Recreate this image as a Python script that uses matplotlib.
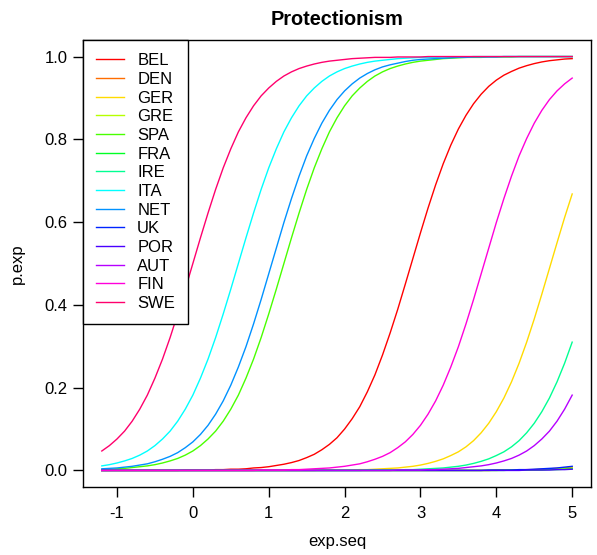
import matplotlib
matplotlib.use("Agg")
import matplotlib.pyplot as plt

plt.rcParams['font.family'] = ['Liberation Sans', 'DejaVu Sans']

# x sequence (exp.seq)
exp_seq = [-1.2, -1.1, -1.0, -0.9, -0.8, -0.7, -0.6, -0.5, -0.4, -0.3,
           -0.2, -0.1, 0.0, 0.1, 0.2, 0.3, 0.4, 0.5, 0.6, 0.7,
           0.8, 0.9, 1.0, 1.1, 1.2, 1.3, 1.4, 1.5, 1.6, 1.7,
           1.8, 1.9, 2.0, 2.1, 2.2, 2.3, 2.4, 2.5, 2.6, 2.7,
           2.8, 2.9, 3.0, 3.1, 3.2, 3.3, 3.4, 3.5, 3.6, 3.7,
           3.8, 3.9, 4.0, 4.1, 4.2, 4.3, 4.4, 4.5, 4.6, 4.7,
           4.8, 4.9, 5.0]

countries = ['BEL', 'DEN', 'GER', 'GRE', 'SPA', 'FRA', 'IRE', 'ITA',
             'NET', 'UK', 'POR', 'AUT', 'FIN', 'SWE']

colors = ['#FF0000', '#FF6D00', '#FFDB00', '#B6FF00', '#49FF00', '#00FF24',
          '#00FF92', '#00FFFF', '#0092FF', '#0024FF', '#4900FF', '#B600FF',
          '#FF00DB', '#FF006D']

p_bel = [0.0] * 11 + [
    0.001, 0.001, 0.001, 0.001, 0.002, 0.002, 0.003, 0.003, 0.004, 0.006,
    0.007, 0.009, 0.012, 0.015, 0.019, 0.024, 0.031, 0.039, 0.050, 0.063,
    0.079, 0.100, 0.125, 0.154, 0.190, 0.231, 0.279, 0.332, 0.389, 0.450,
    0.512, 0.574, 0.634, 0.690, 0.741, 0.786, 0.825, 0.858, 0.886, 0.909,
    0.928, 0.943, 0.955, 0.964, 0.972, 0.978, 0.983, 0.987, 0.990, 0.992,
    0.994, 0.995]
p_den = [0.0] * 52 + [0.001, 0.001, 0.001, 0.001, 0.002, 0.002, 0.003,
                      0.004, 0.005, 0.006, 0.008]
p_ger = [0.0] * 29 + [
    0.001, 0.001, 0.001, 0.001, 0.001, 0.002, 0.002, 0.003, 0.004, 0.005,
    0.006, 0.008, 0.010, 0.013, 0.017, 0.022, 0.028, 0.036, 0.045, 0.057,
    0.072, 0.091, 0.114, 0.142, 0.175, 0.214, 0.259, 0.310, 0.366, 0.426,
    0.488, 0.550, 0.611, 0.668]
p_gre = [0.0] * 53 + [0.001, 0.001, 0.001, 0.001, 0.002, 0.002, 0.003,
                      0.004, 0.005, 0.006]
p_spa = [
    0.002, 0.003, 0.004, 0.005, 0.007, 0.009, 0.011, 0.014, 0.018, 0.023,
    0.029, 0.037, 0.047, 0.060, 0.076, 0.095, 0.119, 0.148, 0.182, 0.223,
    0.269, 0.321, 0.378, 0.438, 0.500, 0.562, 0.622, 0.679, 0.731, 0.777,
    0.818, 0.852, 0.881, 0.905, 0.924, 0.940, 0.953, 0.963, 0.971, 0.977,
    0.982, 0.986, 0.989, 0.991, 0.993, 0.995, 0.996, 0.997, 0.998, 0.998,
    0.998, 0.999, 0.999, 0.999, 0.999] + [1.0] * 8
p_fra = [0.0] * 54 + [0.001, 0.001, 0.001, 0.001, 0.001, 0.002, 0.002,
                      0.003, 0.004]
p_ire = [0.0] * 35 + [
    0.001, 0.001, 0.001, 0.001, 0.001, 0.002, 0.002, 0.003, 0.004, 0.005,
    0.006, 0.008, 0.010, 0.013, 0.017, 0.022, 0.028, 0.036, 0.045, 0.057,
    0.072, 0.091, 0.114, 0.142, 0.175, 0.214, 0.259, 0.310]
p_ita = [
    0.011, 0.014, 0.018, 0.023, 0.029, 0.037, 0.047, 0.060, 0.076, 0.095,
    0.119, 0.148, 0.182, 0.223, 0.269, 0.321, 0.378, 0.438, 0.500, 0.562,
    0.622, 0.679, 0.731, 0.777, 0.818, 0.852, 0.881, 0.905, 0.924, 0.940,
    0.953, 0.963, 0.971, 0.977, 0.982, 0.986, 0.989, 0.991, 0.993, 0.995,
    0.996, 0.997, 0.998, 0.998, 0.998, 0.999, 0.999, 0.999, 0.999] + [1.0] * 14
p_net = [
    0.004, 0.005, 0.006, 0.008, 0.010, 0.013, 0.016, 0.021, 0.027, 0.034,
    0.043, 0.055, 0.069, 0.087, 0.109, 0.136, 0.168, 0.206, 0.250, 0.299,
    0.354, 0.413, 0.475, 0.537, 0.599, 0.657, 0.711, 0.760, 0.802, 0.839,
    0.870, 0.896, 0.917, 0.934, 0.948, 0.959, 0.968, 0.975, 0.980, 0.984,
    0.988, 0.991, 0.993, 0.994, 0.995, 0.996, 0.997, 0.998, 0.998, 0.999,
    0.999, 0.999, 0.999] + [1.0] * 10
p_uk = [0.0] * 51 + [0.001, 0.001, 0.001, 0.001, 0.002, 0.002, 0.003,
                     0.004, 0.005, 0.006, 0.008, 0.010]
p_por = [0.0] * 56 + [0.001, 0.001, 0.001, 0.001, 0.002, 0.002, 0.003]
p_aut = [0.0] * 39 + [
    0.001, 0.001, 0.001, 0.001, 0.002, 0.002, 0.003, 0.004, 0.005, 0.007,
    0.009, 0.011, 0.014, 0.018, 0.023, 0.029, 0.037, 0.047, 0.060, 0.076,
    0.095, 0.119, 0.148, 0.182]
p_fin = [0.0] * 21 + [
    0.001, 0.001, 0.001, 0.001, 0.002, 0.002, 0.003,
    0.004, 0.005, 0.006, 0.008, 0.010, 0.013, 0.016, 0.021, 0.027, 0.034,
    0.043, 0.055, 0.069, 0.087, 0.109, 0.136, 0.168, 0.206, 0.250, 0.299,
    0.354, 0.413, 0.475, 0.537, 0.599, 0.657, 0.711, 0.760, 0.802, 0.839,
    0.870, 0.896, 0.917, 0.934, 0.948]
p_swe = [
    0.047, 0.060, 0.076, 0.095, 0.119, 0.148, 0.182, 0.223, 0.269, 0.321,
    0.378, 0.438, 0.500, 0.562, 0.622, 0.679, 0.731, 0.777, 0.818, 0.852,
    0.881, 0.905, 0.924, 0.940, 0.953, 0.963, 0.971, 0.977, 0.982, 0.986,
    0.989, 0.991, 0.993, 0.995, 0.996, 0.997, 0.998, 0.998, 0.998, 0.999,
    0.999, 0.999, 0.999] + [1.0] * 20

series = [p_bel, p_den, p_ger, p_gre, p_spa, p_fra, p_ire, p_ita, p_net,
          p_uk, p_por, p_aut, p_fin, p_swe]

x_ticks = [-1, 0, 1, 2, 3, 4, 5]
y_ticks = [0.0, 0.2, 0.4, 0.6, 0.8, 1.0]
y_ticklabels = ['0.0', '0.2', '0.4', '0.6', '0.8', '1.0']

fig = plt.figure(figsize=(5.97, 5.55), dpi=100)
ax = fig.add_axes([83 / 597, 68 / 555, 508 / 597, 447 / 555])

for name, vals, col in zip(countries, series, colors):
    ax.plot(exp_seq, vals, color=col, lw=1.0, label=name)

ax.set_xlim(-1.448, 5.248)
ax.set_ylim(-0.04, 1.04)
ax.set_xticks(x_ticks)
ax.set_xticklabels([str(t) for t in x_ticks])
ax.set_yticks(y_ticks)
ax.set_yticklabels(y_ticklabels)
ax.tick_params(direction='out', length=7, width=1.0, labelsize=12,
               colors='black')
ax.tick_params(axis='x', pad=7)
ax.tick_params(axis='y', pad=4)
for s in ax.spines.values():
    s.set_linewidth(1.0)
    s.set_color('black')

leg = ax.legend(loc='upper left', bbox_to_anchor=(0, 1), borderaxespad=0,
                fancybox=False, edgecolor='black', framealpha=1, fontsize=12,
                handlelength=1.65, handletextpad=0.8, labelspacing=0.22,
                borderpad=0.8)
leg.get_frame().set_linewidth(1.0)

ax.set_title('Protectionism', fontsize=14.4, fontweight='bold', pad=11)
ax.set_xlabel('exp.seq', fontsize=12)
ax.set_ylabel('p.exp', fontsize=12)
ax.xaxis.set_label_coords(0.5, -0.105)
ax.yaxis.set_label_coords(-0.115, 0.5)

fig.savefig('out.png', dpi=100)
